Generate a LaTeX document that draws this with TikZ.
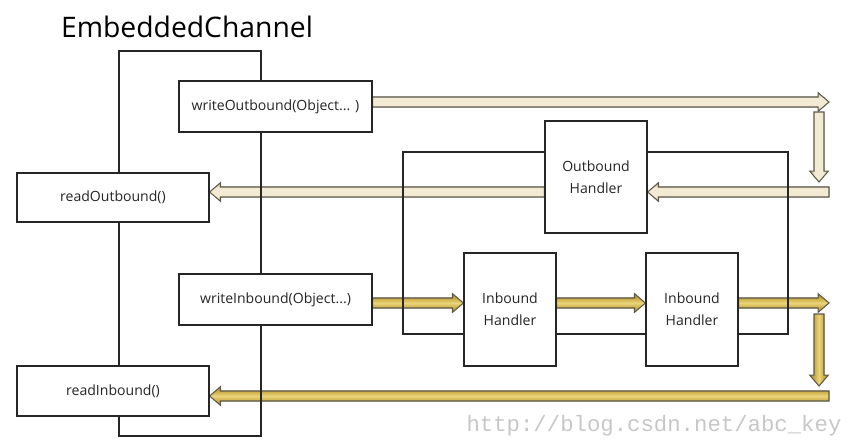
\documentclass[tikz,border=0pt]{standalone}
\usepackage{fontspec}
\setmainfont{Open Sans}
\newfontfamily\wmfont{Liberation Mono}
\usetikzlibrary{calc}
\pgfdeclarelayer{arrows}
\pgfdeclarelayer{frames}
\pgfsetlayers{arrows,frames,main}
\definecolor{creamL}{HTML}{F3EAD3}
\definecolor{creamD}{HTML}{BFAC84}
\definecolor{goldL}{HTML}{EAD47C}
\definecolor{goldM}{HTML}{CFB14A}
\definecolor{goldD}{HTML}{A68726}
\definecolor{arrline}{HTML}{5E5A4C}
\definecolor{txt}{HTML}{262626}
\pgfdeclareverticalshading{creamtube}{100bp}{color(0bp)=(creamD); color(25bp)=(creamD); color(38bp)=(creamL); color(62bp)=(creamL); color(75bp)=(creamD); color(100bp)=(creamD)}
\pgfdeclareverticalshading{goldtube}{100bp}{color(0bp)=(goldD); color(25bp)=(goldD); color(39bp)=(goldM); color(50bp)=(goldL); color(61bp)=(goldM); color(75bp)=(goldD); color(100bp)=(goldD)}
% fat arrows: shaft, head half width, head length
\def\sh{2.85pt}
\def\hw{5.3pt}
\def\hl{6.2pt}
\newcommand{\harrow}[3]{%
	\filldraw[#1] let \p1=(#2), \p2=(#3), \n1={sign(\x2-\x1)} in
		(\x1,{\y2+\sh}) -- ({\x2-(\n1)*\hl},{\y2+\sh}) -- ({\x2-(\n1)*\hl},{\y2+\hw})
		-- (\x2,\y2) -- ({\x2-(\n1)*\hl},{\y2-\hw}) -- ({\x2-(\n1)*\hl},{\y2-\sh})
		-- (\x1,{\y2-\sh}) -- cycle;}
\newcommand{\varrow}[3]{%
	\filldraw[#1] let \p1=(#2), \p2=(#3), \n1={sign(\y2-\y1)} in
		({\x2-\sh},\y1) -- ({\x2-\sh},{\y2-(\n1)*\hl}) -- ({\x2-\hw},{\y2-(\n1)*\hl})
		-- (\x2,\y2) -- ({\x2+\hw},{\y2-(\n1)*\hl}) -- ({\x2+\sh},{\y2-(\n1)*\hl})
		-- ({\x2+\sh},\y1) -- cycle;}

\begin{document}
\begin{tikzpicture}[x=0.02cm, y=-0.02cm,
		frame/.style={draw=black!85, line width=0.7pt},
		box/.style={draw=black!85, line width=0.7pt, fill=white, text=txt, font=\fontsize{8}{12.5}\selectfont, align=center, inner sep=0pt},
		outH/.style={draw=arrline, line width=0.6pt, shading=creamtube},
		outV/.style={draw=arrline, line width=0.6pt, shading=creamtube, shading angle=90},
		inH/.style={draw=arrline, line width=0.6pt, shading=goldtube},
		inV/.style={draw=arrline, line width=0.6pt, shading=goldtube, shading angle=90}]
			\useasboundingbox (0,0) rectangle (849,447);
			\node (T) at (187,27)[text=black, font=\fontsize{16.1}{19}\selectfont]{EmbeddedChannel};
			% channel and pipeline frames
			\begin{pgfonlayer}{frames}
				\draw[frame] (119,51) rectangle (261,436);
				\draw[frame] (403,152) rectangle (788,334);
			\end{pgfonlayer}
			% method boxes
			\node (WO) at (275.5,106.5)[box, minimum width=3.86cm, minimum height=1.02cm]{writeOutbound(Object... )};
			\node (RO) at (113,197.5)[box, minimum width=3.84cm, minimum height=0.98cm]{readOutbound()};
			\node (WI) at (275.5,299.5)[box, minimum width=3.86cm, minimum height=1.02cm]{writeInbound(Object...)};
			\node (RI) at (113,391)[box, minimum width=3.84cm, minimum height=1cm]{readInbound()};
			% handlers
			\node (OH) at (596,177)[box, minimum width=2.04cm, minimum height=2.24cm]{Outbound\\Handler};
			\node (IH1) at (510,309.5)[box, minimum width=1.84cm, minimum height=2.26cm]{Inbound\\Handler};
			\node (IH2) at (692,309.5)[box, minimum width=1.84cm, minimum height=2.26cm]{Inbound\\Handler};
			% turning points on the right
			\coordinate (T1) at (829,102);
			\coordinate (T2) at (829,192);
			\coordinate (T3) at (829,303);
			\coordinate (T4) at (829,396);
			\coordinate (V1) at (819,112);
			\coordinate (V2) at (819,182);
			\coordinate (V3) at (819,314);
			\coordinate (V4) at (819,386);
			\begin{pgfonlayer}{arrows}
				% outbound path
				\harrow{outH}{WO.east |- T1}{T1}
				\varrow{outV}{V1}{V2}
				\harrow{outH}{T2}{OH.east |- T2}
				\harrow{outH}{OH.west |- T2}{RO.east |- T2}
				% inbound path
				\harrow{inH}{WI.east |- T3}{IH1.west |- T3}
				\harrow{inH}{IH1.east |- T3}{IH2.west |- T3}
				\harrow{inH}{IH2.east |- T3}{T3}
				\varrow{inV}{V3}{V4}
				\harrow{inH}{T4}{RI.east |- T4}
			\end{pgfonlayer}
			\node (W) at (654,426)[text=black!22, font=\wmfont\fontsize{12.7}{14}\selectfont]{http://blog.csdn.net/abc\_key};
\end{tikzpicture}
\end{document}
